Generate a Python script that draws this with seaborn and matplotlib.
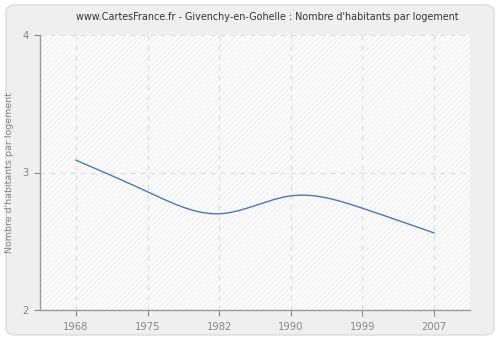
import numpy as np
import pandas as pd
import seaborn as sns
import matplotlib.pyplot as plt
from matplotlib.patches import FancyBboxPatch, Rectangle

# Census years and average household size
years = ["1968", "1975", "1982", "1990", "1999", "2007"]
habitants = [3.09, 2.86, 2.70, 2.83, 2.74, 2.56]
y_ticks = [2, 3, 4]

title = "www.CartesFrance.fr - Givenchy-en-Gohelle : Nombre d'habitants par logement"
y_label = "Nombre d'habitants par logement"

sns.set_theme(style="white")
plt.rcParams["font.family"] = ["DejaVu Sans"]
plt.rcParams["hatch.linewidth"] = 0.8

fig = plt.figure(figsize=(5.0, 3.4), dpi=100)
fig.patch.set_facecolor("white")

# rounded panel behind the chart
panel = FancyBboxPatch((6 / 500, 5 / 340), 488 / 500, 330 / 340,
                       boxstyle="round,pad=0,rounding_size=0.02",
                       transform=fig.transFigure, facecolor="#efefef",
                       edgecolor="#dcdcdc", linewidth=1.0, zorder=-5)
fig.patches.append(panel)

ax = fig.add_axes([40 / 500, 30 / 340, 430 / 500, 275 / 340])
ax.set_facecolor("white")
ax.set_zorder(2)

# natural cubic spline through the points, on category positions
def natural_spline(xs, ys, xf):
    xs = np.asarray(xs, float)
    ys = np.asarray(ys, float)
    n = len(xs)
    h = np.diff(xs)
    A = np.zeros((n, n))
    b = np.zeros(n)
    A[0, 0] = A[-1, -1] = 1
    for i in range(1, n - 1):
        A[i, i - 1] = h[i - 1]
        A[i, i] = 2 * (h[i - 1] + h[i])
        A[i, i + 1] = h[i]
        b[i] = 3 * ((ys[i + 1] - ys[i]) / h[i] - (ys[i] - ys[i - 1]) / h[i - 1])
    c = np.linalg.solve(A, b)
    out = np.empty_like(xf)
    for k, x in enumerate(xf):
        i = min(max(np.searchsorted(xs, x) - 1, 0), n - 2)
        dx = x - xs[i]
        bi = (ys[i + 1] - ys[i]) / h[i] - h[i] * (2 * c[i] + c[i + 1]) / 3
        di = (c[i + 1] - c[i]) / (3 * h[i])
        out[k] = ys[i] + bi * dx + c[i] * dx ** 2 + di * dx ** 3
    return out

pos = np.arange(len(years))
xf = np.linspace(0, len(years) - 1, 300)
curve = pd.DataFrame({"x": xf, "y": natural_spline(pos, habitants, xf)})

ax.set_xlim(-0.5, len(years) - 0.5)
ax.set_ylim(2, 4)

# hatched plot background
ax.add_patch(Rectangle((0, 0), 1, 1, transform=ax.transAxes, facecolor="#fbfbfb",
                       edgecolor="#f1f1f1", hatch="//////", linewidth=0, zorder=0))

for p in pos:
    ax.axvline(p, color="#e0e0e0", linestyle=(0, (4, 4)), linewidth=0.9, zorder=1)
for t in y_ticks[1:]:
    ax.axhline(t, color="#e0e0e0", linestyle=(0, (4, 4)), linewidth=0.9, zorder=1)

sns.lineplot(data=curve, x="x", y="y", ax=ax, color="#4a7ab5", linewidth=1.0, zorder=3)

ax.set_xticks(pos)
ax.set_xticklabels(years)
ax.set_yticks(y_ticks)
ax.set_yticklabels([str(t) for t in y_ticks])
ax.set_xlabel("")
ax.set_ylabel(y_label, color="#888888", fontsize=6.8)
ax.yaxis.set_label_coords(-26 / 430, 0.5)
ax.tick_params(axis="both", colors="#888888", labelsize=7.2, length=4, width=0.8,
               direction="out", bottom=True, left=True)
ax.tick_params(axis="x", pad=5)
ax.tick_params(axis="y", pad=4)
for side in ["top", "right"]:
    ax.spines[side].set_visible(False)
for side in ["left", "bottom"]:
    ax.spines[side].set_color("#999999")
    ax.spines[side].set_linewidth(1.0)
ax.grid(False)

fig.text(267 / 500, 1 - 17 / 340, title, ha="center", va="center",
         fontsize=6.9, color="#333333")

fig.savefig("out.png", dpi=100, facecolor=fig.get_facecolor())
